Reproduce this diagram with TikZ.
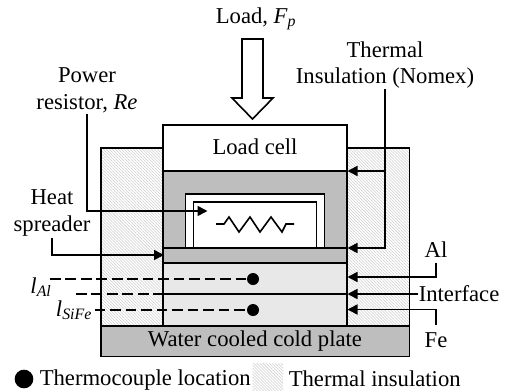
\documentclass[tikz,border=0pt]{standalone}
\usepackage{fontspec}
\setmainfont{Liberation Serif}
\usepackage{xcolor}
\usepackage{tikz}
\usetikzlibrary{arrows.meta, calc, patterns.meta}

\definecolor{nomexgray}{HTML}{BEBEBE}
\definecolor{metalgray}{HTML}{E8E8E8}

\begin{document}
\begin{tikzpicture}[
    x=0.75pt, y=-0.75pt,
    font=\fontsize{17}{20}\selectfont,
    >={Triangle[length=7.5pt,width=7.5pt]},
    line width=1.2pt,
    body/.style={draw=black},
    hatched/.style={pattern={Lines[angle=-45,distance=1.6pt,line width=0.4pt]},pattern color=black!20},
    leader/.style={->},
    dashline/.style={dash pattern=on 8pt off 3.6pt},
    tcdot/.style={circle,fill=black,inner sep=0pt,minimum size=9pt},
    lbl/.style={align=center,inner sep=0pt},
]
\useasboundingbox (0,0) rectangle (506,390);

%------------------------------------------------------------
% Stack geometry (reference pixels)
%------------------------------------------------------------
\def\Xl{163}    % stack, left
\def\Xr{347}    % stack, right
\def\Ol{101}    % outer insulation, left
\def\Or{409.5}  % outer insulation, right

%============================================================
%  Stack
%============================================================
\draw[body,hatched] (\Ol,148) rectangle (\Or,326);
\draw[body,fill=white] (\Xl,125) rectangle (\Xr,171);
\draw[body,fill=nomexgray] (\Xl,171) rectangle (\Xr,248);
\draw[body,fill=white] (185.5,194) rectangle (324.5,248);
\draw[body,fill=white] (193.5,202) rectangle (316.5,248);
\draw[body,fill=nomexgray] (\Xl,248) rectangle (\Xr,263);
\draw[body,fill=metalgray] (\Xl,263) rectangle (\Xr,294);
\draw[body,fill=metalgray] (\Xl,294) rectangle (\Xr,326);
\draw[body,fill=nomexgray] (\Ol,326) rectangle (\Or,356.5);

\node[lbl] (loadcell) at (255,147) {Load cell};
\node[lbl] (coldplate) at (255,341) {Water cooled cold plate};

% --- Resistor symbol ---
\draw (216,224) -- (224,224) -- (229,217) -- (239,232) -- (250,217)
      -- (260,232) -- (271,217) -- (282,232) -- (286,224) -- (294,224);

% --- Load arrow, hollow ---
\draw[line join=miter] (242,39) -- (263,39) -- (263,98) -- (273,98)
      -- (252.5,119) -- (232,98) -- (242,98) -- cycle;
\node[lbl] (load) at (256,19) {Load, \textit{F\textsubscript{p}}};

%============================================================
%  Labels and leaders
%============================================================
\coordinate (resTip) at (207.5,211);
\coordinate (spreadTip) at (164,255);
\coordinate (nomexTipA) at (347.5,171);
\coordinate (nomexTipB) at (347.5,248);
\coordinate (alTip) at (347.5,277);
\coordinate (ifTip) at (347.5,294);
\coordinate (feTip) at (347.5,309.5);

\node[lbl] (power) at (87,90) {Power\\resistor, \textit{Re}};
\draw[leader] (power.south) ++(0,1) |- (resTip);

\node[lbl] (spreader) at (52,213) {Heat\\spreader};
\draw[leader] (spreader.south) ++(0,1) |- (spreadTip);

\node[lbl] (nomex) at (385,65) {Thermal\\Insulation (Nomex)};
\draw[leader] (nomex.south) |- (nomexTipB);
\draw[leader] (386,171) -- (nomexTipA);

\node[lbl] (al) at (436,250) {Al};
\draw[leader] (al.south) ++(0,4) |- (alTip);
\node[lbl,anchor=west] (iface) at (418,294) {Interface};
\draw[leader] (iface.west) -- (ifTip);
\node[lbl] (fe) at (436,340) {Fe};
\draw[leader] (fe.north) ++(0,-7) |- (feTip);

%============================================================
%  Thermocouples and length marks
%============================================================
\node[tcdot] (tcAl) at (253,279) {};
\node[tcdot] (tcFe) at (253,310) {};
\node[lbl] (lAl) at (41,287) {\textit{l\textsubscript{Al}}};
\node[lbl] (lSiFe) at (74,310) {\textit{l\textsubscript{SiFe}}};
\coordinate (lAlEnd) at (50,279);
\coordinate (lMidEnd) at (76,294);
\coordinate (ifLeft) at (\Xl,294);

\draw[dashline] (lAlEnd) -- (tcAl);
\draw[dashline] (lMidEnd) -- (ifLeft);
\draw[dashline] (lSiFe.east) ++(2,0) -- (tcFe);

%============================================================
%  Legend
%============================================================
\node[tcdot,minimum size=14pt] (legdot) at (24,379) {};
\node[lbl,anchor=west] (legtc) at (39,380) {Thermocouple location};
\fill[hatched] (252.5,363) rectangle (283,390);
\node[lbl,anchor=west] (legins) at (288,379) {Thermal insulation};

\end{tikzpicture}
\end{document}
